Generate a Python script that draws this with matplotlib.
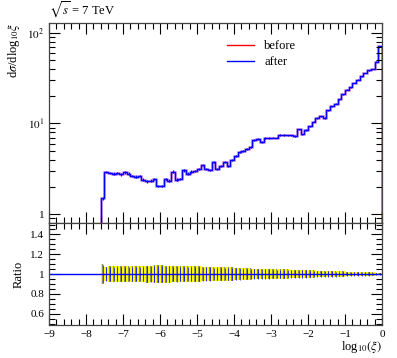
import numpy as np
import matplotlib
matplotlib.use('Agg')
import matplotlib.pyplot as plt
from matplotlib.ticker import MultipleLocator, LogLocator, NullFormatter, FuncFormatter

plt.rcParams['font.family'] = ['Liberation Serif', 'DejaVu Serif']
plt.rcParams['mathtext.fontset'] = 'stix'

# histogram in log10(xi), 0.1 wide bins starting at -7.6
bin_start = -7.6
bin_width = 0.1
after = [1.5, 2.9, 2.85, 2.8, 2.85, 2.75, 2.9, 2.8, 2.65, 2.6,
         2.65, 2.4, 2.3, 2.35, 2.45, 2.05, 2.05, 2.45, 2.35, 2.95,
         2.4, 2.45, 3.05, 2.8, 2.95, 3.0, 3.15, 3.5, 3.15, 3.1,
         3.8, 3.15, 3.4, 3.8, 3.4, 4.0, 4.4, 4.9, 5.0, 5.2,
         5.5, 6.6, 6.8, 6.2, 6.9, 6.9, 7.0, 7.0, 7.5, 7.5,
         7.4, 7.4, 7.3, 8.6, 7.6, 8.5, 9.3, 10.5, 11.5, 12.0,
         11.5, 14.0, 15.5, 16.5, 18.5, 21.0, 23.5, 25.0, 28.0, 30.5,
         33.0, 36.0, 38.5, 40.0, 48.0, 72.0]
before = list(after)
rel_err = [0.10, 0.075, 0.078, 0.078, 0.076, 0.08, 0.078, 0.08, 0.08, 0.082,
           0.082, 0.084, 0.086, 0.085, 0.09, 0.092, 0.09, 0.086, 0.086, 0.082,
           0.085, 0.084, 0.08, 0.082, 0.08, 0.078, 0.076, 0.074, 0.075, 0.074,
           0.07, 0.072, 0.07, 0.068, 0.068, 0.066, 0.064, 0.062, 0.06, 0.06,
           0.058, 0.055, 0.055, 0.055, 0.053, 0.052, 0.05, 0.05, 0.048, 0.047,
           0.046, 0.045, 0.044, 0.042, 0.042, 0.04, 0.039, 0.037, 0.035, 0.034,
           0.033, 0.031, 0.03, 0.028, 0.027, 0.026, 0.025, 0.023, 0.022, 0.021,
           0.02, 0.018, 0.017, 0.016, 0.014, 0.012]

after = np.array(after)
before = np.array(before)
rel_err = np.array(rel_err)
n = len(after)
edges = bin_start + bin_width * np.arange(n + 1)
centers = 0.5 * (edges[:-1] + edges[1:])
ratio = after / before

fig = plt.figure(figsize=(3.97, 3.58), dpi=100)
ax = fig.add_axes([0.1234, 0.377, 0.8388, 0.5587])
rax = fig.add_axes([0.1234, 0.0922, 0.8388, 0.2848], sharex=ax)

# main panel
ax.stairs(before, edges, baseline=1e-3, color='#b040c0', lw=1.8, alpha=0.6, label='_nolegend_')
ax.plot([], [], color='red', lw=1.0, label='before')
ax.stairs(after, edges, baseline=1e-3, color='blue', lw=1.0, label='after')
ax.errorbar(centers, after, yerr=after * rel_err * 0.4, fmt='none', ecolor='blue', elinewidth=0.9)
ax.set_yscale('log')
ax.set_ylim(0.8, 128)
ax.set_xlim(-9, 0)
ax.set_ylabel(r'd$\sigma$/dlog$_{10}\xi$', loc='top', fontsize=9)
ax.text(0.0, 1.015, r'$\sqrt{s}$ = 7 TeV', transform=ax.transAxes, fontsize=9, va='bottom')
ax.legend(loc='upper left', bbox_to_anchor=(0.5, 0.97), frameon=False, fontsize=9,
          handlelength=2.2, labelspacing=0.3)
ax.yaxis.set_major_locator(LogLocator(base=10))
ax.yaxis.set_minor_locator(LogLocator(base=10, subs=np.arange(2, 10)))
ax.yaxis.set_minor_formatter(NullFormatter())
ax.yaxis.set_major_formatter(FuncFormatter(
    lambda v, p: '1' if abs(v - 1) < 1e-9 else r'$10^{%d}$' % round(np.log10(v))))
plt.setp(ax.get_xticklabels(), visible=False)

# ratio panel
for i in range(n):
    lo, w, e = edges[i], bin_width, rel_err[i]
    rax.bar(lo, 2 * e, width=w, bottom=1 - e, align='edge', color='#ffff00', lw=0)
    rax.bar(centers[i], 2 * e, width=w * 0.4, bottom=1 - e, color='#8c8c6a', lw=0)
rax.errorbar(centers, ratio, yerr=rel_err * 0.9, fmt='none', ecolor='blue', elinewidth=0.5)
rax.axhline(1, color='blue', lw=1.0)
rax.set_ylim(0.485, 1.515)
rax.set_xlim(-9, 0)
rax.set_ylabel('Ratio', fontsize=9)
rax.set_xlabel(r'log$_{10}(\xi)$', loc='right', fontsize=9, labelpad=0)
rax.yaxis.set_major_locator(MultipleLocator(0.2))
rax.yaxis.set_minor_locator(MultipleLocator(0.05))
rax.yaxis.set_major_formatter(FuncFormatter(lambda v, p: f'{v:g}'))
rax.xaxis.set_major_locator(MultipleLocator(1))
rax.xaxis.set_minor_locator(MultipleLocator(0.2))

for a in (ax, rax):
    a.tick_params(which='both', direction='in', top=True, right=True, labelsize=8)
    a.tick_params(which='major', length=8, width=0.8)
    a.tick_params(which='minor', length=4, width=0.8)
    for s in a.spines.values():
        s.set_color('#444444')
        s.set_linewidth(0.9)

fig.savefig('out.png', dpi=100)
